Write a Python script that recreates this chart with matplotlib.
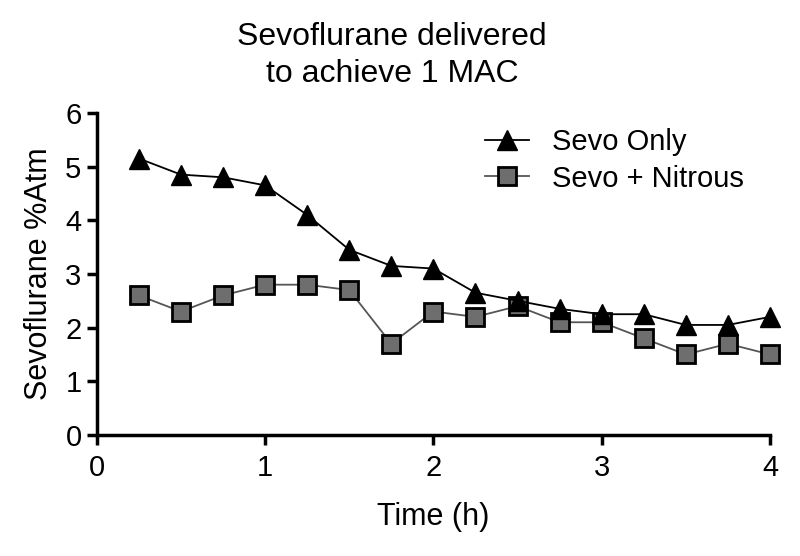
import matplotlib
matplotlib.use("Agg")
import matplotlib.pyplot as plt

plt.rcParams['font.family'] = ['Liberation Sans', 'DejaVu Sans']

time = [0.25, 0.5, 0.75, 1.0, 1.25, 1.5, 1.75, 2.0, 2.25, 2.5, 2.75, 3.0, 3.25, 3.5, 3.75, 4.0]
sevo_only = [5.15, 4.85, 4.8, 4.65, 4.1, 3.45, 3.15, 3.1, 2.65, 2.5, 2.35, 2.25, 2.25, 2.05, 2.05, 2.2]
sevo_nitrous = [2.6, 2.3, 2.6, 2.8, 2.8, 2.7, 1.7, 2.3, 2.2, 2.4, 2.1, 2.1, 1.8, 1.5, 1.7, 1.5]
xticks = [0, 1, 2, 3, 4]
yticks = [0, 1, 2, 3, 4, 5, 6]

fig = plt.figure(figsize=(8, 5.56), dpi=100)
ax = fig.add_axes([0.121, 0.2176, 0.8415, 0.5794])

ax.plot(time, sevo_only, color='black', lw=1.3, marker='^', ms=15,
        mfc='black', mec='black', label='Sevo Only', zorder=3, clip_on=False)
ax.plot(time, sevo_nitrous, color='#555555', lw=1.3, marker='s', ms=13,
        mfc='#6e6e6e', mec='black', mew=2, label='Sevo + Nitrous', zorder=2, clip_on=False)

ax.set_xlim(0, 4)
ax.set_ylim(0, 6)
ax.set_xticks(xticks)
ax.set_yticks(yticks)
for s in ['top', 'right']:
    ax.spines[s].set_visible(False)
for s in ['left', 'bottom']:
    ax.spines[s].set_linewidth(2.5)
ax.tick_params(axis='x', width=2.5, length=7, labelsize=21, pad=7)
ax.tick_params(axis='y', width=2.5, length=7, labelsize=21, pad=4)
ax.set_xlabel('Time (h)', fontsize=22, labelpad=14)
ax.set_ylabel('Sevoflurane %Atm', fontsize=22, labelpad=8)
fig.text(0.49, 0.90, 'Sevoflurane delivered\nto achieve 1 MAC', fontsize=23,
         ha='center', va='center', linespacing=1.3)

leg = ax.legend(loc='upper right', bbox_to_anchor=(1.0, 1.035), frameon=False,
                fontsize=21, handlelength=1.5, handletextpad=0.8, labelspacing=0.3)

fig.savefig('out.png', dpi=100)
